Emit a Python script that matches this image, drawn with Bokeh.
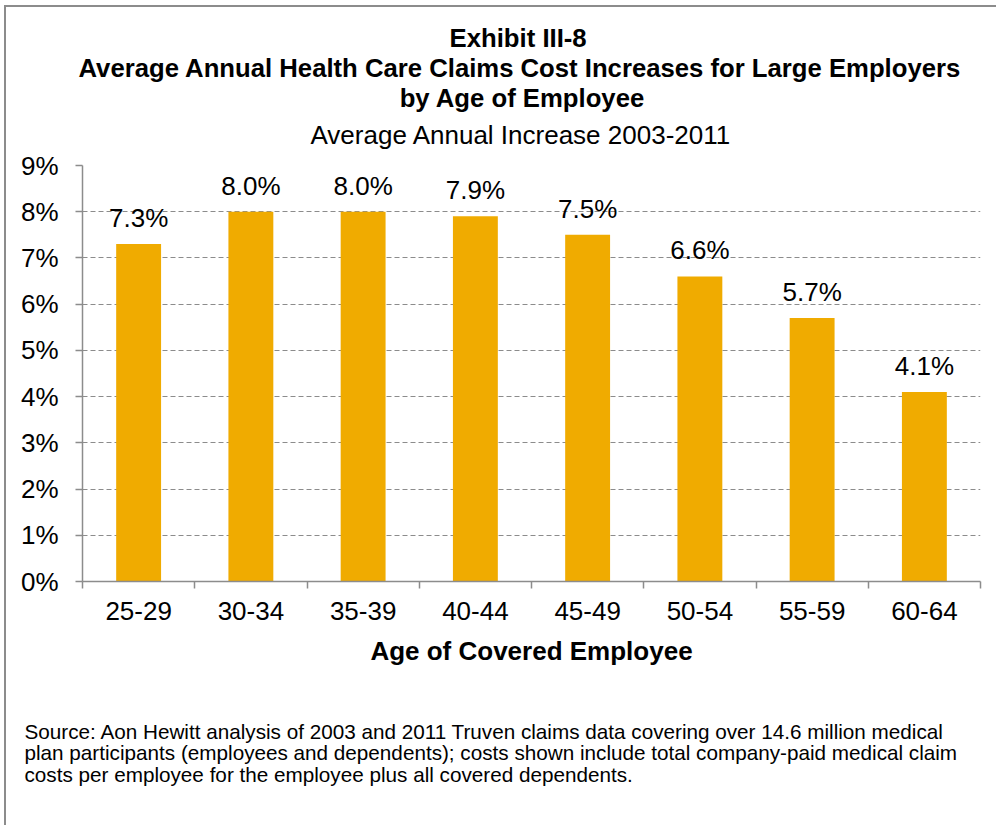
from bokeh.plotting import figure
from bokeh.models import (ColumnDataSource, Range1d, FixedTicker, LabelSet, Title)
from bokeh.core.properties import value
from bokeh.embed import file_html
from bokeh.resources import INLINE

# ---- data ----
age_groups = ["25-29", "30-34", "35-39", "40-44", "45-49", "50-54", "55-59", "60-64"]
increase_pct = [7.3, 8.0, 8.0, 7.9, 7.5, 6.6, 5.7, 4.1]
y_ticks = [0, 1, 2, 3, 4, 5, 6, 7, 8, 9]

title_lines = ["Exhibit III-8",
               "Average Annual Health Care Claims Cost Increases for Large Employers",
               "by Age of Employee"]
subtitle = "Average Annual Increase 2003-2011"
x_label = "Age of Covered Employee"
source_lines = [
    "Source: Aon Hewitt analysis of 2003 and 2011 Truven claims data covering over 14.6 million medical",
    "plan participants (employees and dependents); costs shown include total company-paid medical claim",
    "costs per employee for the employee plus all covered dependents.",
]

FONT = "Liberation Sans"
FS = "26px"
TFS = "25.7px"
GRAY = "#8c8c8c"
BAR = "#F0AB00"

n = len(age_groups)
centers = [i + 0.5 for i in range(n)]
bounds = [i for i in range(n + 1)]

src = ColumnDataSource(dict(
    x=centers,
    y=increase_pct,
    lab=[f"{v:.1f}%" for v in increase_pct],
))

p = figure(width=992, height=820, output_backend="svg", toolbar_location=None,
           x_range=Range1d(0, n), y_range=Range1d(0, 9),
           min_border_left=76, min_border_right=18, min_border_top=158, min_border_bottom=246)
p.styles = {"margin-left": "4px", "margin-top": "5px",
            "border-left": "2px solid #8c8c8c", "border-top": "2px solid #8c8c8c"}
p.outline_line_color = None
p.background_fill_color = "white"
p.border_fill_color = "white"

p.vbar(x="x", top="y", width=0.4, bottom=0, source=src, fill_color=BAR, line_color=None)

# value labels
p.add_layout(LabelSet(x="x", y="y", text="lab", source=src, y_offset=17,
                      text_align="center", text_baseline="alphabetic",
                      text_font=value(FONT), text_font_size=value(FS), text_color="#000000"))

# grid
p.xgrid.visible = False
p.ygrid.ticker = FixedTicker(ticks=y_ticks)
p.ygrid.grid_line_color = GRAY
p.ygrid.grid_line_dash = "5 3"
p.ygrid.grid_line_width = 1

# y axis
ya = p.yaxis[0]
ya.ticker = FixedTicker(ticks=y_ticks)
ya.major_label_overrides = {t: f"{t}%" for t in y_ticks}
ya.axis_line_color = GRAY
ya.axis_line_width = 1.5
ya.major_tick_line_color = GRAY
ya.major_tick_line_width = 1.5
ya.major_tick_out = 7
ya.major_tick_in = 0
ya.minor_tick_line_color = None
ya.major_label_text_font = FONT
ya.major_label_text_font_size = FS
ya.major_label_text_color = "#000000"
ya.major_label_standoff = 17

# x axis
xa = p.xaxis[0]
xa.ticker = FixedTicker(ticks=centers, minor_ticks=bounds)
xa.major_label_overrides = {c: g for c, g in zip(centers, age_groups)}
xa.axis_line_color = GRAY
xa.axis_line_width = 1.5
xa.major_tick_out = 0
xa.major_tick_in = 0
xa.major_tick_line_color = None
xa.minor_tick_line_color = GRAY
xa.minor_tick_line_width = 1.5
xa.minor_tick_out = 7
xa.minor_tick_in = 0
xa.major_label_text_font = FONT
xa.major_label_text_font_size = FS
xa.major_label_text_color = "#000000"
xa.major_label_standoff = 13
xa.axis_label = x_label
xa.axis_label_text_font = FONT
xa.axis_label_text_font_size = FS
xa.axis_label_text_font_style = "bold"
xa.axis_label_text_color = "#000000"
xa.axis_label_standoff = 13

# titles: added closest-to-frame first.
# The three bold lines form one block; shorter lines are indented with
# non-breaking spaces so that every line is centred on the same axis.
indents = [52, 0, 45]
title_block = "\n".join("\u00a0" * k + line for k, line in zip(indents, title_lines))

p.add_layout(Title(text=" ", text_font_size="6px", standoff=0), "above")  # gap above frame
p.add_layout(Title(text=subtitle, align="left", offset=228, text_font=FONT, text_font_size=FS,
                   text_font_style="normal", text_color="#000000", standoff=15), "above")
p.add_layout(Title(text=title_block, align="left", offset=-4, text_font=FONT,
                   text_font_size=TFS, text_font_style="bold", text_color="#000000",
                   text_line_height=1.07, standoff=-3), "above")

# source note below
p.add_layout(Title(text=" ", text_font_size="16px", standoff=21), "below")  # gap
p.add_layout(Title(text="\n".join(source_lines), align="left", offset=-58,
                   text_font=FONT, text_font_size="20.7px", text_font_style="normal",
                   text_color="#000000", text_line_height=0.94, standoff=22,
                   vertical_align="top"), "below")

open("out.html", "w").write(file_html(p, INLINE))
